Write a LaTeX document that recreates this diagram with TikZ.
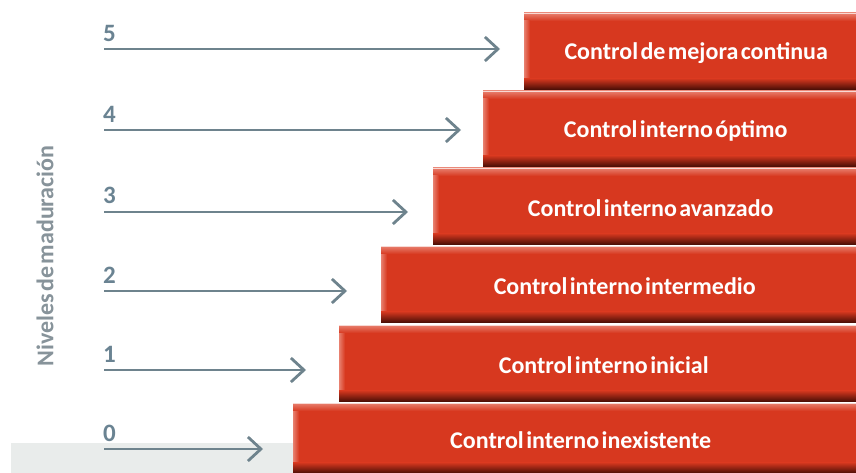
\documentclass[tikz,border=0pt]{standalone}
\usepackage{fontspec}
\setmainfont{Carlito}
\usetikzlibrary{arrows.meta}
\definecolor{boxred}{HTML}{D7381F}
\definecolor{boxdark}{HTML}{4A0E06}
\definecolor{boxlight}{HTML}{E8806F}
\definecolor{arrgray}{HTML}{6E838D}
\definecolor{numgray}{HTML}{6A8392}
\definecolor{lblgray}{HTML}{87939A}
\definecolor{bandgray}{HTML}{E9ECEB}
\newcommand\tightsp{\spaceskip=0.10em plus 0.02em\relax}
\tikzset{
  stepbox/.style={fill=boxred, inner sep=0pt, anchor=north west},
  steptext/.style={text=white, inner sep=0pt,
    font=\bfseries\fontsize{24}{26}\selectfont\tightsp},
  lvl/.style={arrgray, line width=2.8pt,
    -{Straight Barb[length=13pt,width=24pt,line width=2.8pt]}},
  num/.style={text=numgray, font=\bfseries\fontsize{25}{27}\selectfont, inner sep=0pt, anchor=base west}
}
\newcommand\mkbox[5]{% name, left, top, bottom, text
  \node[stepbox, minimum width={856-#2}, minimum height={#4-#3}] (#1) at (#2,#3) {};
  \shade[top color=boxlight, bottom color=boxred] (#1.north west) rectangle ([yshift=-8pt]#1.north east);
  \shade[left color=boxlight, right color=boxred] ([yshift=-8pt]#1.north west) rectangle ([xshift=6pt,yshift=10pt]#1.south west);
  \shade[top color=boxred, bottom color=boxdark] ([yshift=11pt]#1.south west) rectangle (#1.south east);
  \draw[white!70!boxlight, line width=1pt] ([yshift=-0.5pt]#1.north west) -- ([yshift=-0.5pt]#1.north east);
  \node[steptext] (#1t) at ([xshift=6pt,yshift=-2pt]#1.center) {#5};
}
\begin{document}
\begin{tikzpicture}[x=1pt,y=-1pt]
\useasboundingbox (0,0) rectangle (856,473);
\fill[bandgray] (11,443) rectangle (300,473);

\mkbox{b0}{293}{403}{473}{Control interno inexistente}
\mkbox{b1}{339}{325}{401}{Control interno inicial}
\mkbox{b2}{381}{246}{322}{Control interno intermedio}
\mkbox{b3}{433}{168}{244}{Control interno avanzado}
\mkbox{b4}{483}{91}{166}{Control interno óptimo}
\mkbox{b5}{524}{13}{89}{Control de mejora continua}

\node[num] (n5) at (103,42) {5};
\node[num] (n4) at (103,123) {4};
\node[num] (n3) at (103,204) {3};
\node[num] (n2) at (103,283) {2};
\node[num] (n1) at (103,362) {1};
\node[num] (n0) at (103,441) {0};

\coordinate (s5) at (104,49);  \coordinate (e5) at (500,49);
\coordinate (s4) at (104,130); \coordinate (e4) at (461,130);
\coordinate (s3) at (104,212); \coordinate (e3) at (408,212);
\coordinate (s2) at (104,291); \coordinate (e2) at (347,291);
\coordinate (s1) at (104,370); \coordinate (e1) at (306,370);
\coordinate (s0) at (104,449); \coordinate (e0) at (263,449);
\foreach \i in {0,...,5} \draw[lvl] (s\i) -- (e\i);

\node[rotate=90, text=lblgray, font=\bfseries\fontsize{24}{26}\selectfont\tightsp, inner sep=0pt] (ylabel) at (45,256) {Niveles de maduración};
\end{tikzpicture}
\end{document}
